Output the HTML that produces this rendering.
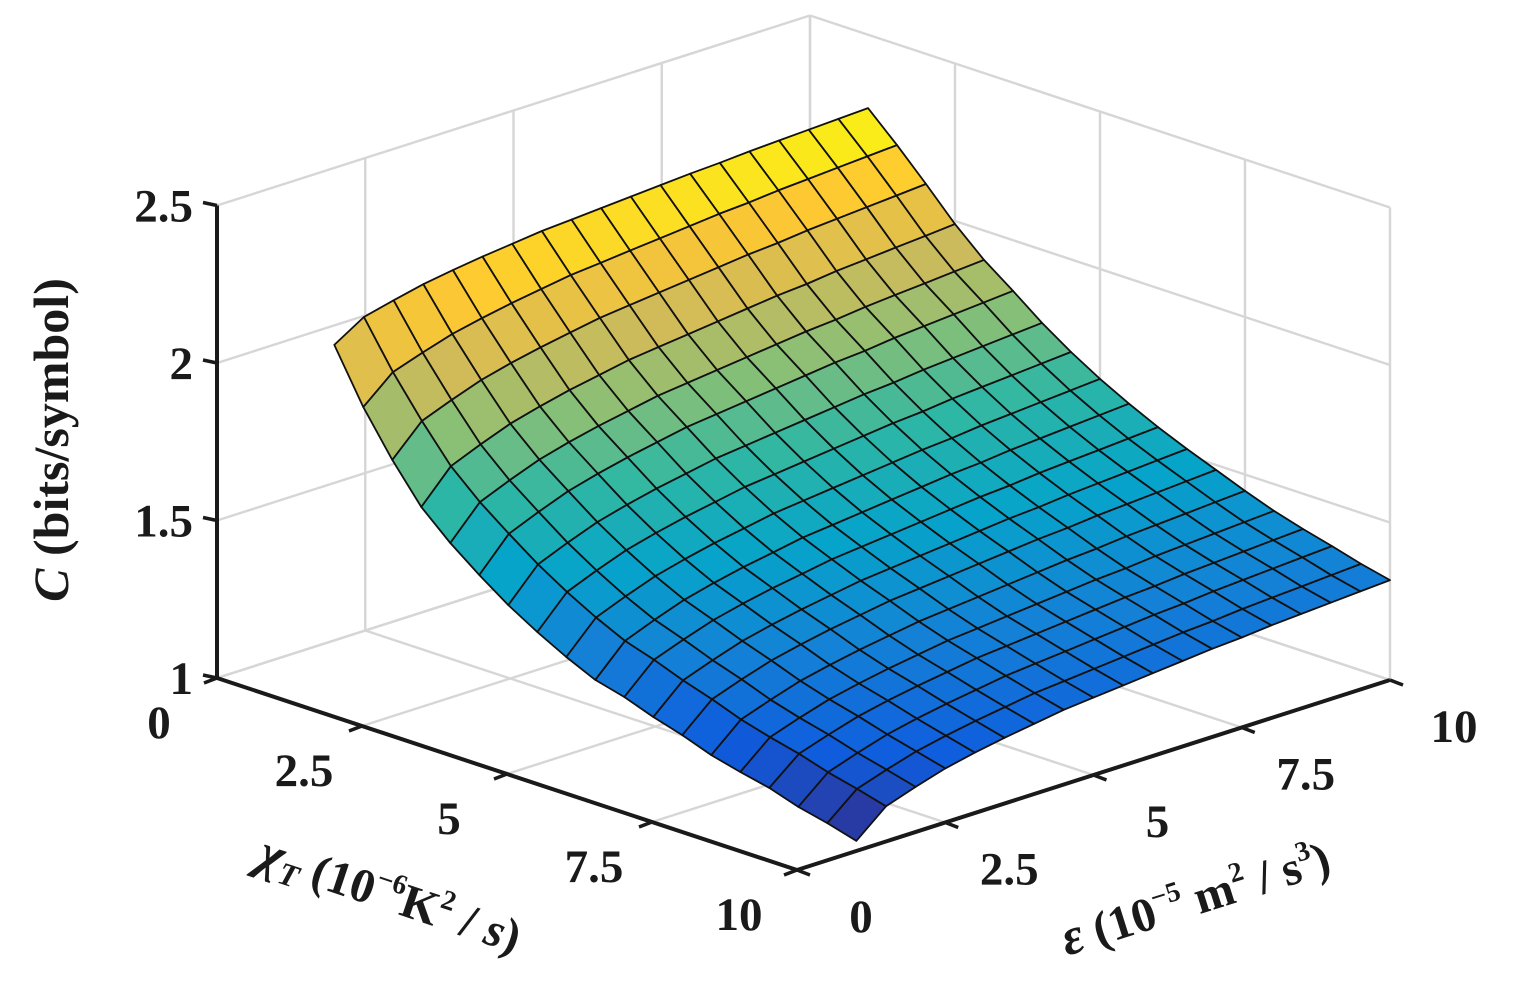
<!DOCTYPE html>
<html><head><meta charset="utf-8"><style>
html,body{margin:0;padding:0;background:#fff;}
svg{display:block;}
text{font-family:"Liberation Serif","DejaVu Serif",serif;font-weight:bold;fill:#1a1a1a;}
</style></head><body>
<svg id="chart" width="1515" height="994" viewBox="0 0 1515 994" xmlns="http://www.w3.org/2000/svg">
<g id="walls"></g>
<g id="surface"></g>
<g id="axes"></g>
<text transform="translate(68,440) rotate(-90)" text-anchor="middle" font-size="50"><tspan font-style="italic">C</tspan> (bits/symbol)</text>
<text transform="translate(385,910) rotate(18.5)" text-anchor="middle" font-size="48"><tspan font-style="italic" font-size="52">χ</tspan><tspan font-style="italic" font-size="32" dy="8">T</tspan><tspan dy="-8"> (10</tspan><tspan font-size="28" dy="-20">−6</tspan><tspan dy="20">K</tspan><tspan font-size="28" dy="-20">2</tspan><tspan dy="20"> / </tspan><tspan font-style="italic">s</tspan>)</text>
<text transform="translate(1200,914) rotate(-17.5)" text-anchor="middle" font-size="48"><tspan font-style="italic" font-size="52">ε</tspan> (10<tspan font-size="28" dy="-20">−5</tspan><tspan dy="20"> m</tspan><tspan font-size="28" dy="-20">2</tspan><tspan dy="20"> / s</tspan><tspan font-size="28" dy="-20">3</tspan><tspan dy="20">)</tspan></text>
</svg>
<script>
// ---- data ----
const chiValues = [1,1.5,2,2.5,3,3.5,4,4.5,5,5.5,6,6.5,7,7.5,8,8.5,9,9.5,10];
const epsValues = [1,1.5,2,2.5,3,3.5,4,4.5,5,5.5,6,6.5,7,7.5,8,8.5,9,9.5,10];
// C along chi at eps = 1
const cAtEpsMin = [2.058,1.891,1.754,1.635,1.551,1.480,1.415,1.360,1.311,1.269,1.245,1.212,1.185,1.152,1.129,1.109,1.079,1.058,1.032];
// C along chi at eps = 10
const cAtEpsMax = [2.267,2.180,2.087,1.990,1.907,1.839,1.768,1.706,1.651,1.603,1.559,1.520,1.484,1.448,1.415,1.388,1.364,1.338,1.317];
// relative rise of C along eps (read from the chi = 1 edge)
const epsProfile = [0,0.28,0.39,0.49,0.56,0.62,0.67,0.72,0.75,0.78,0.81,0.84,0.87,0.89,0.92,0.94,0.96,0.98,1];
const zTicks = [1,1.5,2,2.5];
const zTickLabels = ["1","1.5","2","2.5"];
const chiTicks = [0,2.5,5,7.5,10];
const chiTickLabels = ["0","2.5","5","7.5","10"];
const epsTicks = [0,2.5,5,7.5,10];
const epsTickLabels = ["0","2.5","5","7.5","10"];

// ---- projection ----
const Z0=1, Z1=2.5;
function P(c,e,z){ return [217 + 58.0*c + 59.3*e, 678 + 19.2*c - 19.0*e - 315*(z-Z0)]; }
const NS="http://www.w3.org/2000/svg";
function mk(tag,attrs,parent){const el=document.createElementNS(NS,tag);for(const k in attrs)el.setAttribute(k,attrs[k]);parent.appendChild(el);return el;}
function line(a,b,stroke,w,parent){return mk('line',{x1:a[0],y1:a[1],x2:b[0],y2:b[1],stroke:stroke,'stroke-width':w},parent);}

// ---- box grid ----
const walls=document.getElementById('walls');
const gc='#d6d6d6';
[0,2.5,5,7.5,10].forEach(e=>{ const l=line(P(0,e,Z0),P(0,e,Z1),gc,2.4,walls);  
  const f=line(P(0,e,Z0),P(10,e,Z0),gc,2.4,walls);  });
[0,2.5,5,7.5,10].forEach(c=>{ const l=line(P(c,10,Z0),P(c,10,Z1),gc,2.4,walls);  
  const f=line(P(c,0,Z0),P(c,10,Z0),gc,2.4,walls);  });
zTicks.forEach(z=>{ const a=line(P(0,0,z),P(0,10,z),gc,2.4,walls);  
  const b=line(P(0,10,z),P(10,10,z),gc,2.4,walls);  });

// ---- colormap (parula approximation) ----
const cmap=[[0.2081,0.1663,0.5292],[0.059,0.361,0.867],[0.078,0.506,0.839],[0.024,0.643,0.792],[0.180,0.718,0.643],[0.529,0.749,0.467],[0.820,0.733,0.349],[0.996,0.784,0.196],[0.976,0.984,0.055]];
function color(t){t=Math.max(0,Math.min(1,t));const s=t*(cmap.length-1);const i=Math.min(cmap.length-2,Math.floor(s));const f=s-i;
  const c=cmap[i].map((v,k)=>Math.round(255*(v+(cmap[i+1][k]-v)*f)));return 'rgb('+c.join(',')+')';}

// ---- surface ----
const Zm=chiValues.map((c,i)=>epsValues.map((e,j)=>cAtEpsMin[i]+(cAtEpsMax[i]-cAtEpsMin[i])*epsProfile[j]));
let zmin=Infinity,zmax=-Infinity;Zm.forEach(r=>r.forEach(v=>{zmin=Math.min(zmin,v);zmax=Math.max(zmax,v);}));
const surf=document.getElementById('surface');
const cells=[];
for(let i=0;i<chiValues.length-1;i++)for(let j=0;j<epsValues.length-1;j++)cells.push([i,j]);
cells.sort((a,b)=>(a[0]-a[1])-(b[0]-b[1]));
cells.forEach(([i,j])=>{
  const pts=[[i,j],[i+1,j],[i+1,j+1],[i,j+1]].map(([a,b])=>P(chiValues[a],epsValues[b],Zm[a][b]));
  const zc=(Zm[i][j]+Zm[i+1][j]+Zm[i+1][j+1]+Zm[i][j+1])/4;
  const p=mk('polygon',{points:pts.map(q=>q[0].toFixed(1)+','+q[1].toFixed(1)).join(' '),fill:color((zc-zmin)/(zmax-zmin)),stroke:'#111','stroke-width':1.8,'stroke-linejoin':'round'},surf);
  
  
});

// ---- axes ----
const ax=document.getElementById('axes');
const zl=line(P(0,0,Z0),P(0,0,Z1),'#1a1a1a',4,ax);  
const cl=line(P(0,0,Z0),P(10,0,Z0),'#1a1a1a',4,ax);  
const el=line(P(10,0,Z0),P(10,10,Z0),'#1a1a1a',4,ax);  
zTicks.forEach((z,k)=>{const p=P(0,0,z);
  const t=line(p,[p[0]-14,p[1]-3],'#1a1a1a',3.5,ax);  
  const tx=mk('text',{x:p[0]-24,y:p[1]+16,'text-anchor':'end','font-size':47},ax); tx.textContent=zTickLabels[k];
   });
chiTicks.forEach((c,k)=>{const p=P(c,0,Z0);
  const t=line(p,[p[0]-13,p[1]+5],'#1a1a1a',3.5,ax);  
  const tx=mk('text',{x:p[0]-58,y:p[1]+60,'text-anchor':'middle','font-size':47},ax); tx.textContent=chiTickLabels[k];
   });
epsTicks.forEach((e,k)=>{const p=P(10,e,Z0);
  const t=line(p,[p[0]+13,p[1]+5],'#1a1a1a',3.5,ax);  
  const tx=mk('text',{x:p[0]+64,y:p[1]+62,'text-anchor':'middle','font-size':47},ax); tx.textContent=epsTickLabels[k];
   });
</script>
</body></html>
